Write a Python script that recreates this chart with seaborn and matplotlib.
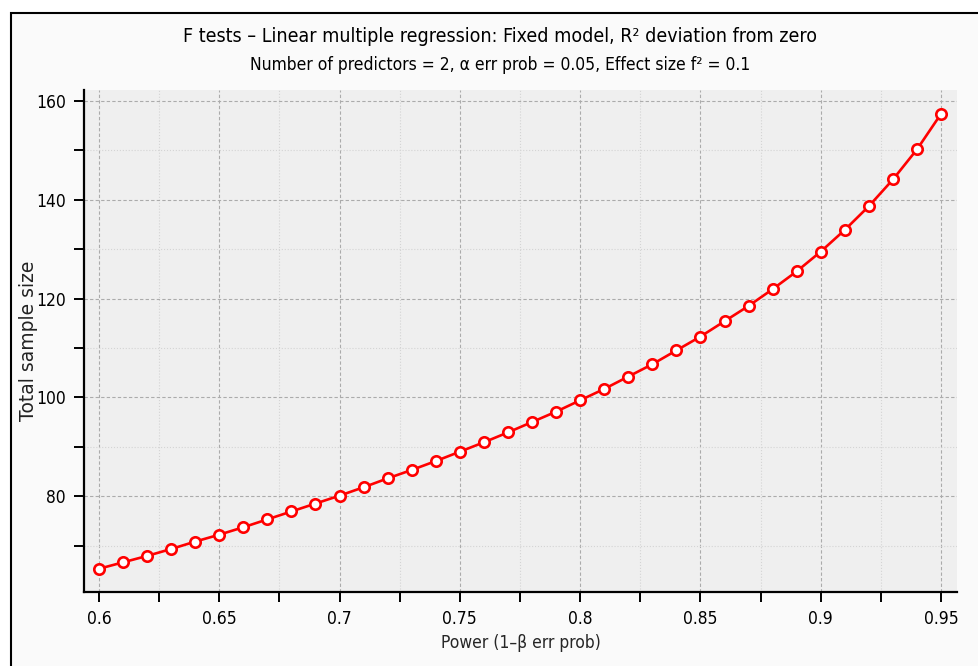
import numpy as np
import pandas as pd
import matplotlib
matplotlib.use("Agg")
import matplotlib.pyplot as plt
import seaborn as sns
from matplotlib.ticker import MultipleLocator, FuncFormatter
from matplotlib.patches import Rectangle

# values
power = [0.60, 0.61, 0.62, 0.63, 0.64, 0.65, 0.66, 0.67, 0.68, 0.69,
         0.70, 0.71, 0.72, 0.73, 0.74, 0.75, 0.76, 0.77, 0.78, 0.79,
         0.80, 0.81, 0.82, 0.83, 0.84, 0.85, 0.86, 0.87, 0.88, 0.89,
         0.90, 0.91, 0.92, 0.93, 0.94, 0.95]
sample_size = [65.3, 66.6, 67.9, 69.3, 70.8, 72.2, 73.7, 75.3, 76.9, 78.5,
               80.1, 81.8, 83.6, 85.3, 87.1, 89.0, 90.9, 92.9, 95.0, 97.1,
               99.4, 101.7, 104.2, 106.7, 109.5, 112.3, 115.4, 118.5, 121.9, 125.5,
               129.5, 133.9, 138.7, 144.1, 150.2, 157.4]

title = "F tests \u2013 Linear multiple regression: Fixed model, R\u00b2 deviation from zero"
subtitle = "Number of predictors = 2, \u03b1 err prob = 0.05, Effect size f\u00b2 = 0.1"
x_label = "Power (1\u2013\u03b2 err prob)"
y_label = "Total sample size"

df = pd.DataFrame({"power": power, "n": sample_size})

sns.set_style("white")
plt.rcParams["font.family"] = ["DejaVu Sans"]
plt.rcParams["font.stretch"] = "condensed"
plt.rcParams["text.color"] = "black"

fig = plt.figure(figsize=(9.79, 6.66), dpi=100, facecolor="white")

# outer panel with frame on the left and top
panel = Rectangle((11 / 979, -0.05), 1.0, 1 - 13 / 666 + 0.05,
                  transform=fig.transFigure, facecolor="#fafafa",
                  edgecolor="black", linewidth=1.5, zorder=-10)
fig.add_artist(panel)

ax = fig.add_axes([84 / 979, 1 - 592 / 666, (957 - 84) / 979, (592 - 90) / 666])
ax.set_facecolor("#efefef")

sns.lineplot(data=df, x="power", y="n", ax=ax, color="red", linewidth=1.9,
             marker="o", markersize=7.5, markerfacecolor="white",
             markeredgecolor="red", markeredgewidth=1.9, zorder=3)

ax.set_xlim(0.5938, 0.9566)
ax.set_ylim(60.6, 162.2)

ax.xaxis.set_major_locator(MultipleLocator(0.05))
ax.xaxis.set_minor_locator(MultipleLocator(0.025))
ax.yaxis.set_major_locator(MultipleLocator(20))
ax.yaxis.set_minor_locator(MultipleLocator(10))
ax.xaxis.set_major_formatter(FuncFormatter(lambda v, p: f"{v:g}"))

ax.grid(which="major", color="#ababab", linestyle="--", linewidth=0.8, dashes=(3, 2))
ax.grid(which="minor", color="#d4d4d4", linestyle=":", linewidth=0.8)
ax.set_axisbelow(True)

for side in ["top", "right"]:
    ax.spines[side].set_visible(False)
for side in ["left", "bottom"]:
    ax.spines[side].set_color("black")
    ax.spines[side].set_linewidth(1.6)

ax.tick_params(which="both", direction="out", length=7, width=1.4, color="black",
               labelcolor="black", labelsize=12.5, pad=6, left=True, bottom=True)

ax.set_xlabel(x_label, fontsize=12.5)
ax.xaxis.set_label_coords(0.5, -(643 - 592) / 502)
ax.xaxis.label.set_va("center")
ax.set_ylabel(y_label, fontsize=13.5, fontstretch="normal", color="#222222")
ax.yaxis.set_label_coords(-(84 - 28) / 873, 0.5)
ax.yaxis.label.set_va("center")

fig.text(0.5107, 1 - 37 / 666, title, ha="center", va="center", fontsize=14)
fig.text(0.5107, 1 - 65 / 666, subtitle, ha="center", va="center", fontsize=12.5)

fig.savefig("out.png", dpi=100, facecolor=fig.get_facecolor())
